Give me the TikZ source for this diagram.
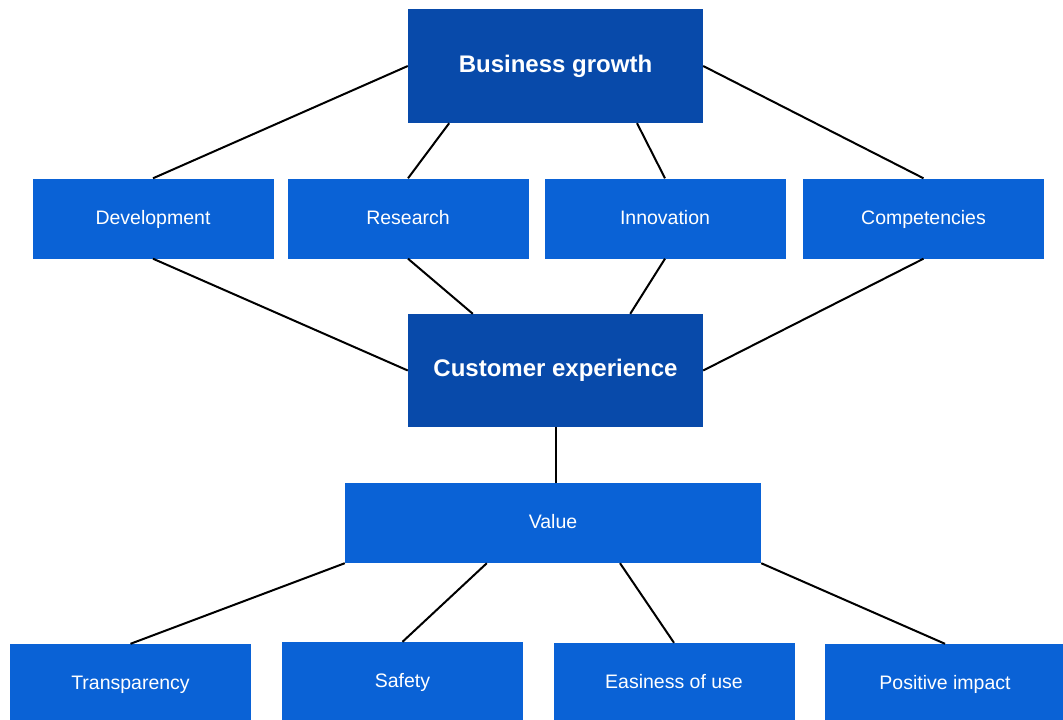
\documentclass[tikz,border=0pt]{standalone}
\usepackage{fontspec}
\setmainfont{Liberation Sans}
\usetikzlibrary{calc}
\definecolor{royalblue}{RGB}{8, 74, 170}
\definecolor{brightblue}{RGB}{10, 98, 214}

\begin{document}
\begin{tikzpicture}[x=1pt, y=-1pt,
            mainbox/.style={fill=royalblue,  text=white, minimum width=295pt, minimum height=114pt, inner sep=0pt,
                            text height=1.25em, text depth=0em, font=\fontsize{24}{28}\selectfont\bfseries},
            subbox/.style={fill=brightblue,  text=white, minimum width=241pt, minimum height=80pt,  inner sep=0pt,
                            text height=1.15em, text depth=0em, font=\fontsize{19.5}{23}\selectfont},
            link/.style={draw=black, line width=2pt}]
            \useasboundingbox (0, 0) rectangle (1063, 720);
            \clip             (0, 0) rectangle (1063, 720);
            \node[mainbox]                        (growth)       at ( 555.5,  66.0) {Business growth};
            \node[subbox]                         (development)  at ( 153.0, 218.5) {Development};
            \node[subbox]                         (research)     at ( 408.0, 218.5) {Research};
            \node[subbox]                         (innovation)   at ( 665.0, 218.5) {Innovation};
            \node[subbox]                         (competencies) at ( 923.5, 218.5) {Competencies};
            \node[mainbox, minimum height=113pt]  (experience)   at ( 555.5, 370.5) {Customer experience};
            \node[subbox, minimum width=416pt]    (value)        at ( 553.0, 523.0) {Value};
            \node[subbox]                         (transparency) at ( 130.5, 684.0) {Transparency};
            \node[subbox]                         (safety)       at ( 402.5, 682.0) {Safety};
            \node[subbox]                         (easiness)     at ( 674.0, 683.0) {Easiness of use};
            \node[subbox]                         (impact)       at ( 945.0, 684.0) {Positive impact};
            \draw[link] (growth.west)                                        -- (development.north);
            \draw[link] ($(growth.south west)!0.14!(growth.south east)$)     -- (research.north);
            \draw[link] ($(growth.south west)!0.776!(growth.south east)$)    -- (innovation.north);
            \draw[link] (growth.east)                                        -- (competencies.north);
            \draw[link] (development.south)                                  -- (experience.west);
            \draw[link] (research.south)                                     -- ($(experience.north west)!0.22!(experience.north east)$);
            \draw[link] (innovation.south)                                   -- ($(experience.north west)!0.753!(experience.north east)$);
            \draw[link] (competencies.south)                                 -- (experience.east);
            \draw[link] (experience.south)                                   -- (experience.south |- value.north);
            \draw[link] (value.south west)                                   -- (transparency.north);
            \draw[link] ($(value.south west)!0.341!(value.south east)$)      -- (safety.north);
            \draw[link] ($(value.south west)!0.661!(value.south east)$)      -- (easiness.north);
            \draw[link] (value.south east)                                   -- (impact.north);
        \end{tikzpicture}
\end{document}
